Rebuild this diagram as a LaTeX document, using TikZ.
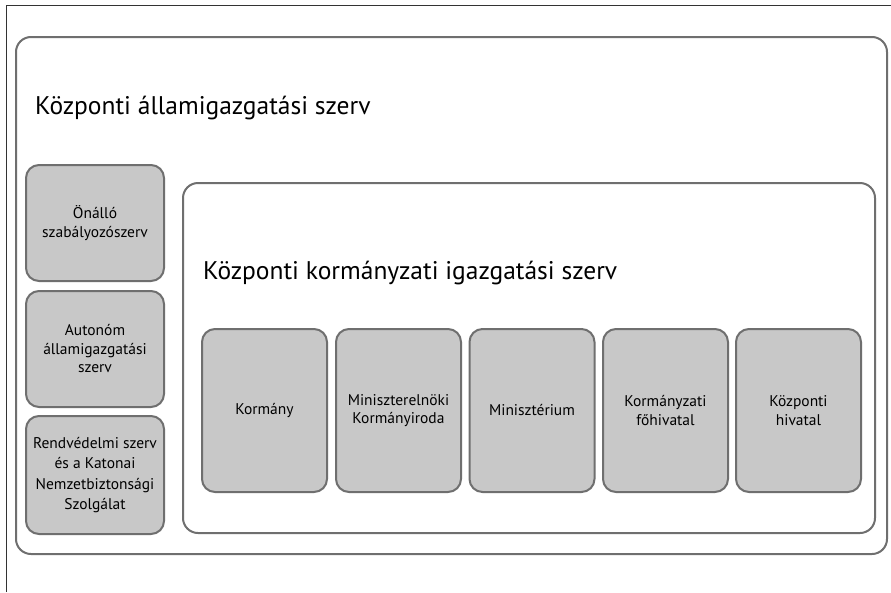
\documentclass[tikz,border=0pt]{standalone}
\usepackage{fontspec}
\setmainfont{PT Sans}
\definecolor{boxline}{HTML}{6F6F6F}
\definecolor{boxfill}{HTML}{C8C8C8}
\definecolor{frameline}{HTML}{333333}
\tikzset{
  container/.style={draw=boxline, line width=2pt, rounded corners=15pt, fill=white},
  unitbox/.style={draw=boxline, line width=2pt, rounded corners=13pt, fill=boxfill, align=center, inner sep=2pt, font=\fontsize{15.5}{18.5}\selectfont},
  title/.style={anchor=west, font=\fontsize{25.5}{30}\selectfont, inner sep=0pt},
}
\begin{document}
\begin{tikzpicture}[x=1pt,y=-1pt]
\useasboundingbox (0,0) rectangle (891,592);
\draw[frameline, line width=1pt] (6,592) -- (6,5) -- (891,5);
% outer container
\draw[container] (16,37) rectangle (887,554);
\node[title] (t1) at (35,108) {Központi államigazgatási szerv};
% left column
\node[unitbox, minimum width=138pt, minimum height=116pt] (b1) at (95,223) {Önálló\\szabályozószerv};
\node[unitbox, minimum width=138pt, minimum height=116pt] (b2) at (95,349) {Autonóm\\államigazgatási\\szerv};
\node[unitbox, minimum width=138pt, minimum height=118pt, font=\fontsize{15.5}{20.5}\selectfont] (b3) at (95,475) {Rendvédelmi szerv\\és a Katonai\\Nemzetbiztonsági\\Szolgálat};
% inner container
\draw[container] (183,183) rectangle (875,533);
\node[title] (t2) at (203,273) {Központi kormányzati igazgatási szerv};
% row
\foreach \n/\x/\t in {r1/264.5/Kormány, r2/398.5/{Miniszterelnöki\\Kormányiroda}, r3/532/Minisztérium, r4/665.5/{Kormányzati\\főhivatal}, r5/798.5/{Központi\\hivatal}}{
  \node[unitbox, minimum width=125pt, minimum height=163pt] (\n) at (\x,410.5) {\t};
}
\end{tikzpicture}
\end{document}
